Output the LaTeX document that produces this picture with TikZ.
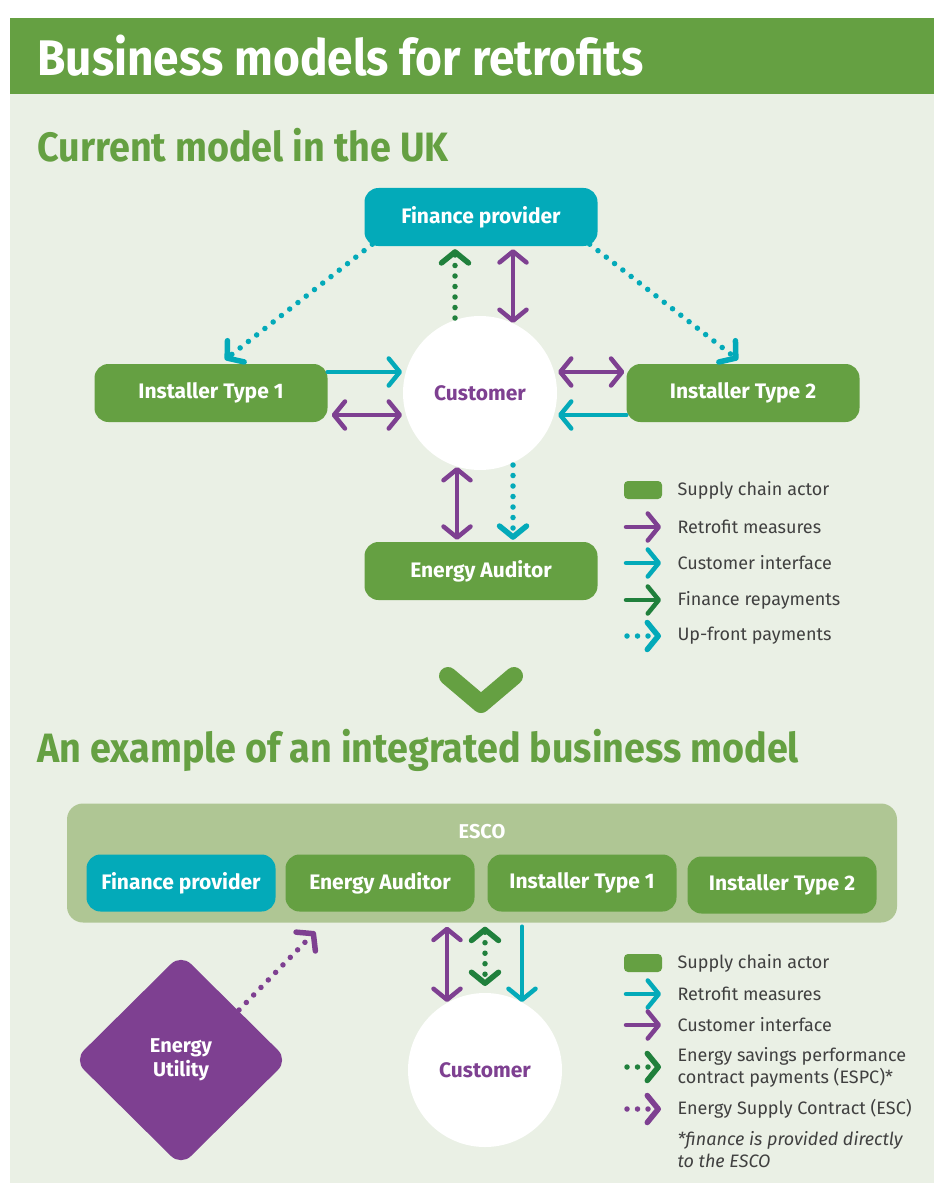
\documentclass[tikz,border=0pt]{standalone}
\usepackage{fontspec}
\setmainfont{Fira Sans}
\newfontfamily\narrowfont{Fira Sans}[FakeStretch=0.92]
\usetikzlibrary{arrows.meta}
\usetikzlibrary{shapes.geometric}
\usetikzlibrary{calc}

\definecolor{leafgreen}{RGB}{101,160,66}
\definecolor{paleback}{RGB}{234,240,229}
\definecolor{escogreen}{RGB}{175,198,148}
\definecolor{tealblue}{RGB}{3,170,185}
\definecolor{plum}{RGB}{126,64,145}
\definecolor{darkgreen}{RGB}{32,128,60}
\definecolor{legendgrey}{RGB}{64,64,64}

\tikzset{
  vtip/.tip={Straight Barb[length=11pt,width=27pt,round]},
  actor/.style={rectangle, rounded corners=14pt, fill=leafgreen, text=white,
    font=\fontsize{21}{25}\selectfont\bfseries, minimum width=233pt, minimum height=58pt},
  funder/.style={actor, fill=tealblue},
  inner/.style={minimum width=189pt, minimum height=57pt},
  customer/.style={circle, fill=white, text=plum, inner sep=0pt,
    font=\fontsize{21}{24}\selectfont\bfseries, minimum size=154pt},
  flow/.style={line width=4.5pt, line cap=round, line join=round},
  dots/.style={flow, line width=5.5pt, dash pattern=on 0pt off 10.5pt},
  legtext/.style={anchor=west, text=legendgrey, align=left,
    font=\fontsize{18}{22}\selectfont},
  swatch/.style={fill=leafgreen, rounded corners=4pt, minimum width=38pt, minimum height=18pt, inner sep=0pt},
  heading/.style={anchor=west, text=leafgreen, font=\narrowfont\fontsize{41}{46}\selectfont\bfseries},
}

\begin{document}
\begin{tikzpicture}[x=1pt,y=-1pt]
  % page, panel and banner
  \fill[white] (0,0) rectangle (934,1185);
  \fill[paleback] (10,18) rectangle (934,1183);
  \fill[leafgreen] (10,18) rectangle (934,94);
  \node[anchor=west, text=white, font=\narrowfont\fontsize{50}{56}\selectfont\bfseries] (title) at (34,56) {Business models for retrofits};
  \node[heading] (current) at (34,145) {Current model in the UK};

  % current model
  \node[funder] (finance) at (481,217) {Finance provider};
  \node[actor] (inst1) at (211,393) {Installer Type 1};
  \node[actor] (inst2) at (743,393) {Installer Type 2};
  \node[customer] (cust) at (480,393) {Customer};
  \node[actor] (auditor) at (481,571) {Energy Auditor};

  \draw[dots, tealblue, -vtip] ($(finance.south west)+(8,-2)$) -- ($(inst1.north)+(14,-4)$);
  \draw[dots, tealblue, -vtip] ($(finance.south east)+(-8,-2)$) -- ($(inst2.north)+(-5,-4)$);
  \draw[dots, darkgreen, -vtip] ($(cust)+(-25,-75)$) -- ($(finance.south)+(-26,3)$);
  \draw[flow, plum, vtip-vtip] ($(finance.south)+(32,3)$) -- ($(cust)+(33,-70)$);

  \draw[flow, tealblue, -vtip] ($(inst1.east)+(0,-21)$) -- ($(cust)+(-78,-21)$);
  \draw[flow, plum, vtip-vtip] ($(inst1.east)+(4,22)$) -- ($(cust)+(-78,22)$);
  \draw[flow, plum, vtip-vtip] ($(cust)+(78,-21)$) -- ($(inst2.west)+(-2,-21)$);
  \draw[flow, tealblue, -vtip] ($(inst2.west)+(0,22)$) -- ($(cust)+(78,22)$);

  \draw[flow, plum, vtip-vtip] ($(cust)+(-23,74)$) -- ($(auditor.north)+(-24,-2)$);
  \draw[dots, tealblue, -vtip] ($(cust)+(33,72)$) -- ($(auditor.north)+(32,-2)$);

  % key for the current model
  \node[swatch] (swatchA) at (643,490) {};
  \node[legtext] (keyactorA) at (674,490) {Supply chain actor};
  \node[legtext] (keyretroA) at (674,527) {Retrofit measures};
  \node[legtext] (keyfaceA) at (674,563) {Customer interface};
  \node[legtext] (keyrepayA) at (674,600) {Finance repayments};
  \node[legtext] (keyupA) at (674,636) {Up-front payments};
  \draw[flow, plum, -vtip] ($(keyretroA.west)+(-48,0)$) -- ($(keyretroA.west)+(-13,0)$);
  \draw[flow, tealblue, -vtip] ($(keyfaceA.west)+(-48,0)$) -- ($(keyfaceA.west)+(-13,0)$);
  \draw[flow, darkgreen, -vtip] ($(keyrepayA.west)+(-48,0)$) -- ($(keyrepayA.west)+(-13,0)$);
  \draw[dots, tealblue, -vtip] ($(keyupA.west)+(-47,0)$) -- ($(keyupA.west)+(-13,0)$);

  % chevron between the two models
  \draw[leafgreen, line width=18pt, line cap=round, line join=round] (448,676) -- (481,704) -- (514,676);

  \node[heading] (integrated) at (34,750) {An example of an integrated business model};

  % integrated model
  \node[fill=escogreen, rounded corners=16pt, minimum width=830pt, minimum height=119pt] (esco) at (482,863) {};
  \node[text=white, font=\fontsize{20}{24}\selectfont\bfseries] (escolabel) at (482,832) {ESCO};
  \node[funder, inner] (efinance) at (181,883) {Finance provider};
  \node[actor, inner] (eauditor) at (380,883) {Energy Auditor};
  \node[actor, inner] (einst1) at (582,883) {Installer Type 1};
  \node[actor, inner] (einst2) at (782,885) {Installer Type 2};

  \node[customer] (ecust) at (485,1070) {Customer};
  \node[diamond, aspect=1, fill=plum, text=white, rounded corners=14pt, inner sep=0pt,
    minimum width=214pt, minimum height=212pt, align=center,
    font=\fontsize{20}{24}\selectfont\bfseries] (utility) at (181,1060) {Energy\\Utility};

  \draw[dots, plum, -vtip] ($(utility)+(58,-50)$) -- ($(eauditor.south west)+(30,20)$);
  \draw[flow, plum, vtip-vtip] ($(esco.south)+(-35,4)$) -- ($(ecust)+(-38,-68)$);
  \draw[dots, darkgreen, vtip-vtip] ($(esco.south)+(3,4)$) -- ($(ecust)+(0,-84)$);
  \draw[flow, tealblue, -vtip] ($(esco.south)+(40,4)$) -- ($(ecust)+(37,-68)$);

  % key for the integrated model
  \node[swatch] (swatchB) at (643,963) {};
  \node[legtext] (keyactorB) at (674,963) {Supply chain actor};
  \node[legtext] (keyretroB) at (674,994) {Retrofit measures};
  \node[legtext] (keyfaceB) at (674,1025) {Customer interface};
  \node[legtext] (keyespc) at (674,1067) {Energy savings performance\\contract payments (ESPC)*};
  \node[legtext] (keyesc) at (674,1109) {Energy Supply Contract (ESC)};
  \node[legtext, font=\fontsize{18}{22}\selectfont\itshape] (note) at (674,1150) {*finance is provided directly\\to the ESCO};
  \draw[flow, tealblue, -vtip] ($(keyretroB.west)+(-48,0)$) -- ($(keyretroB.west)+(-13,0)$);
  \draw[flow, plum, -vtip] ($(keyfaceB.west)+(-48,0)$) -- ($(keyfaceB.west)+(-13,0)$);
  \draw[dots, darkgreen, -vtip] ($(keyespc.west)+(-47,0)$) -- ($(keyespc.west)+(-13,0)$);
  \draw[dots, plum, -vtip] ($(keyesc.west)+(-47,0)$) -- ($(keyesc.west)+(-13,0)$);
\end{tikzpicture}
\end{document}
